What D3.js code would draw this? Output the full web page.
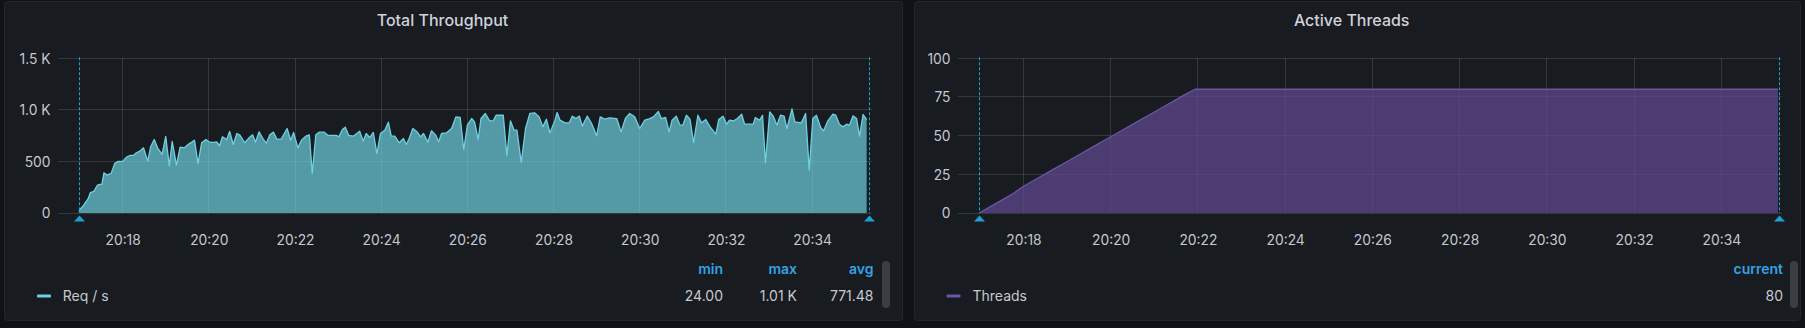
<!DOCTYPE html>
<html><head><meta charset="utf-8">
<script src="https://cdn.jsdelivr.net/npm/d3@7"></script>
<style>
html,body{margin:0;padding:0;background:#111217;overflow:hidden}
svg{display:block}
text{font-family:Inter,"Noto Sans",sans-serif}
</style></head>
<body><svg id="c" width="1805" height="328"></svg>
<script>
// ---------- DATA ----------
const testStart = "2021-01-01T20:16:59";
const viewStart = "2021-01-01T20:16:30";
const viewEnd   = "2021-01-01T20:35:23";
const annotationOffsets = [0, 1100]; // seconds after testStart

const reqTimes = [0,6,13,16,21,26,29,32,35,39,45,50,55,61,66,71,76,80,85,90,96,100,105,110,116,121,126,130,136,141,147,153,158,161,166,171,177,182,187,192,196,200,206,210,215,220,224,231,237,242,246,251,257,261,266,271,276,282,290,295,299,305,310,316,321,325,330,335,342,347,354,359,362,367,371,376,382,387,391,396,400,405,410,415,420,426,431,435,440,446,452,456,460,465,471,476,480,486,491,497,501,
505,512,519,525,531,536,541,547,551,556,560,566,572,577,581,591,596,601,606,610,616,622,628,635,641,646,651,656,663,666,670,677,683,687,692,697,701,708,714,721,726,732,739,749,755,761,767,774,781,788,794,800,807,811,817,822,826,832,837,841,846,851,856,862,867,873,879,887,891,897,902,906,912,917,923,927,934,939,942,948,952,956,962,967,972,977,982,986,993,997,1006,1012,1017,1022,1027,1033,1037,1043,1050,1054,1059,1064,1069,1073,1078,1083,1087,1092,1097];
const reqValues = [24,68,139,197,210,271,277,277,390,368,384,481,500,500,539,558,558,584,600,632,503,642,713,626,568,742,458,694,465,639,632,668,690,706,481,681,713,687,684,690,652,739,713,790,664,771,758,681,729,758,687,787,713,677,758,784,713,719,819,706,781,632,706,745,758,384,758,784,784,752,752,752,739,810,832,752,745,771,793,697,771,732,781,577,771,803,881,748,745,681,723,664,723,819,787,739,771,687,797,755,690,
771,777,819,932,926,616,852,916,884,713,916,965,894,894,948,948,558,894,803,803,490,819,965,971,932,835,910,777,900,974,900,874,874,939,916,939,842,939,868,748,932,910,923,916,787,916,965,932,819,900,913,932,984,916,926,787,900,939,852,852,948,910,681,948,874,906,835,764,906,939,861,900,894,916,958,861,861,861,926,900,948,487,981,939,852,948,939,819,1010,884,874,965,416,916,948,829,797,894,958,948,861,835,861,852,942,916,745,955,906];

const threadTimes  = [0,15,30,45,60,75,90,105,120,135,150,165,180,195,210,225,240,255,270,285,297,1099];
const threadValues = [0,4,8,12,17,21,25,29,33,37,41,45,49,53,57,61,65,69,73,77,80,80];

const reqTicks = [0,500,1000,1500];
const reqTickLabels = ["0","500","1.0 K","1.5 K"];
const threadTicks = [0,25,50,75,100];
const threadTickLabels = ["0","25","50","75","100"];

const reqStatNames = ["min","max","avg"];
const reqStatValues = ["24.00","1.01 K","771.48"];
const threadStatNames = ["current"];
const threadStatValues = ["80"];

if (reqTimes.length !== reqValues.length) throw new Error("req len " + reqTimes.length + " vs " + reqValues.length);
if (threadTimes.length !== threadValues.length) throw new Error("thread len");

// ---------- LAYOUT ----------
const t0 = new Date(testStart);
const toDate = s => new Date(t0.getTime() + s * 1000);

const panels = [
  { title: "Total Throughput", titleX: 442.5,
    box: [4.5, 1.5, 898, 319], plot: [58, 871.7, 58.3, 213],
    times: reqTimes, values: reqValues, yMax: 1500, ticks: reqTicks, tickLabels: reqTickLabels,
    line: "#6ED0E0", fill: "#6ED0E0", fillOpacity: 0.7,
    series: "Req / s", markerX: 37, nameX: 62.7,
    statNames: reqStatNames, statValues: reqStatValues, statRight: [723, 797, 873.5],
    scroll: [882, 261, 8, 47] },
  { title: "Active Threads", titleX: 1351.7,
    box: [914.5, 1.5, 886, 319], plot: [958, 1781.7, 58.3, 213],
    times: threadTimes, values: threadValues, yMax: 100, ticks: threadTicks, tickLabels: threadTickLabels,
    line: "#6a55a6", fill: "#614a93", fillOpacity: 0.72,
    series: "Threads", markerX: 946.5, nameX: 972.5,
    statNames: threadStatNames, statValues: threadStatValues, statRight: [1783],
    scroll: [1790, 261, 8, 47] }
];

const svg = d3.select("#c");
const textCol = "#c7c8d1";
const gridCol = "rgba(240,250,255,0.13)";
const annCol = "#18a6cf";

panels.forEach(p => {
  const g = svg.append("g");
  g.append("rect").attr("x", p.box[0]).attr("y", p.box[1]).attr("width", p.box[2]).attr("height", p.box[3])
    .attr("rx", 3).attr("fill", "#181b1f").attr("stroke", "#23262b").attr("stroke-width", 1);

  g.append("text").attr("x", p.titleX).attr("y", 26).attr("text-anchor", "middle")
    .attr("fill", "#d0d1dc").attr("font-size", 16).attr("font-weight", 500).text(p.title);

  const x = d3.scaleTime().domain([new Date(viewStart), new Date(viewEnd)]).range([p.plot[0], p.plot[1]]);
  const y = d3.scaleLinear().domain([0, p.yMax]).range([p.plot[3], p.plot[2]]);
  const xTicks = x.ticks(d3.timeMinute.every(2));

  // grid
  g.append("g").selectAll("line").data(p.ticks).join("line")
    .attr("x1", p.plot[0]).attr("x2", p.plot[1]).attr("y1", d => y(d)).attr("y2", d => y(d))
    .attr("stroke", gridCol).attr("stroke-width", 1).attr("shape-rendering", "crispEdges");
  g.append("g").selectAll("line").data(xTicks).join("line")
    .attr("x1", d => x(d)).attr("x2", d => x(d)).attr("y1", p.plot[2]).attr("y2", p.plot[3])
    .attr("stroke", gridCol).attr("stroke-width", 1).attr("shape-rendering", "crispEdges");

  // series
  const data = p.times.map((t, i) => ({ t: toDate(t), v: p.values[i] }));
  const area = d3.area().x(d => x(d.t)).y0(y(0)).y1(d => y(d.v));
  const line = d3.line().x(d => x(d.t)).y(d => y(d.v));
  g.append("path").datum(data).attr("d", area).attr("fill", p.fill).attr("fill-opacity", p.fillOpacity);
  g.append("path").datum(data).attr("d", line).attr("fill", "none").attr("stroke", p.line)
    .attr("stroke-width", 1.3).attr("stroke-linejoin", "round");

  // annotations
  annotationOffsets.forEach(s => {
    const ax = Math.round(x(toDate(s))) + 0.5;
    g.append("line").attr("x1", ax).attr("x2", ax).attr("y1", p.plot[2] - 1).attr("y2", p.plot[3])
      .attr("stroke", annCol).attr("stroke-width", 1).attr("stroke-dasharray", "3,2");
    g.append("path").attr("d", `M${ax - 5.5},${p.plot[3] + 8.5}L${ax},${p.plot[3] + 2.5}L${ax + 5.5},${p.plot[3] + 8.5}Z`)
      .attr("fill", "#1f9fd8");
  });

  // y axis labels
  const ya = d3.axisLeft(y).tickValues(p.ticks).tickFormat((d, i) => p.tickLabels[i]).tickSize(0).tickPadding(7.5);
  const yg = g.append("g").attr("transform", `translate(${p.plot[0]},0)`).call(ya);
  yg.select(".domain").remove();
  yg.selectAll("text").attr("fill", textCol).attr("font-size", 13.8).attr("font-family", "Inter").attr("dy", "0.36em");

  // x axis labels
  const xa = d3.axisBottom(x).tickValues(xTicks).tickFormat(d3.timeFormat("%H:%M")).tickSize(0).tickPadding(22);
  const xg = g.append("g").attr("transform", `translate(0,${p.plot[3]})`).call(xa);
  xg.select(".domain").remove();
  xg.selectAll("text").attr("fill", textCol).attr("font-size", 13.8).attr("font-family", "Inter");

  // legend
  g.append("rect").attr("x", p.markerX).attr("y", 294.5).attr("width", 14).attr("height", 3).attr("rx", 1)
    .attr("fill", p.line);
  g.append("text").attr("x", p.nameX).attr("y", 301).attr("fill", textCol).attr("font-size", 14).text(p.series);
  p.statNames.forEach((n, i) => {
    g.append("text").attr("x", p.statRight[i]).attr("y", 274.3).attr("text-anchor", "end")
      .attr("fill", "#33a2e5").attr("font-size", 14).attr("font-weight", 600).text(n);
    g.append("text").attr("x", p.statRight[i]).attr("y", 301).attr("text-anchor", "end")
      .attr("fill", textCol).attr("font-size", 14).text(p.statValues[i]);
  });
  g.append("rect").attr("x", p.scroll[0]).attr("y", p.scroll[1]).attr("width", p.scroll[2]).attr("height", p.scroll[3])
    .attr("rx", 4).attr("fill", "#3b3d44");
});
</script></body></html>
